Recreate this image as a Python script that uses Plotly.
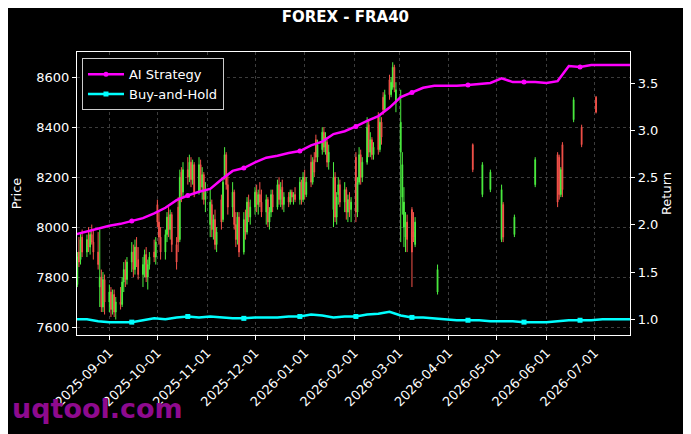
import pandas as pd
import plotly.graph_objects as go

# ---- price candles (FRA40), daily, dense part Aug 2025 -> Mar 2026 ----
dense_start = "2025-08-11"
dense_opens = [
    7830, 7770, 7900, 7870, 7960,  7900, 7950, 7920, 7970, 7940,
    7900, 7760, 7800, 7680, 7790,  7700, 7740, 7670, 7730, 7660,
    7700, 7690, 7780, 7830, 7790,  7860, 7900, 7830, 7920, 7870,
    7810, 7850, 7890, 7800, 7850,  7900, 7880, 8090, 8020, 7960,
    7900, 7970, 8040, 7990, 8050,  7930, 8080, 7950, 8220, 8140,
    8230, 8200, 8260, 8190, 8250,  8140, 8250, 8160, 8210, 8110,
    8010, 8090, 7990, 8030, 7930,  8110, 8030, 8200, 8290, 8170,
    8080, 8140, 8010, 7950, 8040,  7900, 8030, 7980, 8100, 8040,
    8080, 8140, 8090, 8130, 8100,  8060, 8110, 8020, 8060, 8130,
    8080, 8170, 8110, 8160, 8090,  8120, 8100, 8140, 8120, 8130,
    8110, 8180, 8110, 8200, 8130,  8260, 8180, 8270, 8350, 8280,
    8310, 8380, 8300, 8340, 8260,  8070, 8200, 8040, 8130, 8170,
    8100, 8150, 8060, 8110, 8070,  8280, 8060, 8180, 8290, 8200,
    8260, 8410, 8300, 8350, 8290,  8440, 8310, 8420, 8520, 8470,
    8590, 8530, 8560, 8640, 8500,  8300, 8120, 8000, 7960, 8020,
    8070, 7980, 7930,
]
dense_highs = [
    7850, 7900, 7960, 7980, 7990,  7970, 8000, 7990, 8010, 7990,
    7980, 7990, 7830, 7820, 7810,  7770, 7760, 7750, 7750, 7720,
    7760, 7800, 7860, 7870, 7880,  7940, 7930, 7950, 7960, 7920,
    7880, 7910, 7920, 7870, 7900,  7950, 7960, 8110, 8060, 8000,
    7990, 8060, 8080, 8070, 8060,  7960, 8120, 8230, 8240, 8260,
    8280, 8290, 8280, 8270, 8260,  8280, 8270, 8240, 8220, 8180,
    8150, 8110, 8050, 8070, 8000,  8130, 8200, 8320, 8300, 8210,
    8180, 8150, 8060, 8060, 8060,  8060, 8070, 8120, 8130, 8110,
    8160, 8170, 8150, 8180, 8150,  8130, 8120, 8080, 8150, 8150,
    8190, 8200, 8180, 8190, 8140,  8140, 8150, 8150, 8140, 8160,
    8200, 8190, 8220, 8230, 8200,  8290, 8280, 8300, 8370, 8350,
    8400, 8400, 8380, 8350, 8330,  8260, 8220, 8140, 8200, 8190,
    8180, 8160, 8130, 8140, 8120,  8300, 8200, 8320, 8310, 8280,
    8440, 8430, 8380, 8360, 8340,  8460, 8450, 8440, 8540, 8550,
    8610, 8600, 8660, 8650, 8580,  8550, 8300, 8160, 8060, 8050,
    8080, 8060, 8040,
]
dense_lows = [
    7750, 7760, 7840, 7850, 7880,  7880, 7900, 7890, 7930, 7870,
    7830, 7680, 7660, 7660, 7650,  7660, 7640, 7650, 7640, 7630,
    7670, 7680, 7740, 7760, 7770,  7820, 7800, 7810, 7840, 7790,
    7760, 7800, 7780, 7750, 7830,  7860, 7850, 8000, 7930, 7870,
    7870, 7940, 7960, 7950, 7900,  7830, 7900, 7940, 8100, 8120,
    8170, 8180, 8160, 8170, 8120,  8130, 8140, 8110, 8090, 8060,
    7960, 7960, 7950, 7910, 7900,  7990, 8020, 8190, 8150, 8050,
    8040, 7990, 7920, 7930, 7880,  7890, 7950, 7970, 8020, 8010,
    8050, 8060, 8050, 8080, 8040,  8010, 8000, 7990, 8040, 8060,
    8070, 8090, 8080, 8070, 8060,  8080, 8090, 8100, 8090, 8100,
    8090, 8090, 8100, 8110, 8120,  8160, 8170, 8200, 8260, 8260,
    8290, 8300, 8290, 8240, 8230,  8000, 8020, 8010, 8090, 8080,
    8060, 8030, 8020, 8040, 8020,  8020, 8040, 8170, 8170, 8180,
    8250, 8280, 8280, 8270, 8270,  8290, 8300, 8330, 8450, 8460,
    8510, 8520, 8550, 8540, 8460,  7940, 8050, 7920, 7900, 7900,
    7760, 7940, 7920,
]
dense_closes = [
    7770, 7880, 7860, 7950, 7900,  7950, 7920, 7970, 7940, 7900,
    7850, 7800, 7680, 7790, 7700,  7740, 7670, 7730, 7660, 7700,
    7690, 7780, 7830, 7790, 7860,  7900, 7830, 7920, 7870, 7810,
    7850, 7890, 7800, 7850, 7880,  7880, 7940, 8020, 7960, 7900,
    7970, 8040, 7990, 8050, 7930,  7860, 7940, 8200, 8130, 8230,
    8200, 8260, 8190, 8250, 8140,  8250, 8160, 8210, 8110, 8150,
    8100, 7990, 8030, 7930, 7980,  8020, 8180, 8290, 8170, 8080,
    8140, 8010, 7950, 8040, 7900,  8030, 7980, 8100, 8040, 8080,
    8140, 8090, 8130, 8100, 8060,  8110, 8020, 8060, 8130, 8080,
    8170, 8110, 8150, 8090, 8120,  8100, 8140, 8120, 8130, 8110,
    8180, 8110, 8200, 8130, 8180,  8180, 8260, 8220, 8280, 8330,
    8380, 8320, 8360, 8260, 8300,  8200, 8040, 8120, 8170, 8100,
    8150, 8060, 8110, 8070, 8100,  8060, 8180, 8290, 8200, 8260,
    8400, 8300, 8350, 8290, 8320,  8310, 8420, 8360, 8470, 8530,
    8530, 8580, 8640, 8560, 8550,  8420, 8250, 8100, 8020, 7950,
    7900, 7960, 8020,
]

# ---- sparse candles after mid-March 2026 ----
sparse_dates = ["2026-03-25", "2026-04-16", "2026-04-22", "2026-04-27", "2026-05-04",
                "2026-05-05", "2026-05-12", "2026-05-25", "2026-06-08", "2026-06-09",
                "2026-06-10", "2026-06-11", "2026-06-18", "2026-06-23", "2026-07-02"]
sparse_opens = [7740, 8330, 8130, 8150, 7950, 8090, 7970, 8170, 8290, 8280, 8130, 8330, 8430, 8400, 8520]
sparse_highs = [7850, 8335, 8260, 8230, 8170, 8100, 8050, 8280, 8300, 8290, 8240, 8340, 8520, 8410, 8525]
sparse_lows = [7730, 8220, 8120, 8140, 7940, 7940, 7960, 8160, 8080, 8110, 8120, 8120, 8420, 8320, 8455]
sparse_closes = [7830, 8230, 8250, 8220, 8150, 7960, 8040, 8270, 8100, 8130, 8230, 8150, 8510, 8330, 8460]

# ---- cumulative return curves, weekly ----
curve_start = "2025-08-11"
ai_strategy = [
    1.90, 1.93, 1.96, 1.99, 2.01, 2.04, 2.07, 2.12, 2.18, 2.26,
    2.31, 2.35, 2.38, 2.48, 2.57, 2.60, 2.66, 2.71, 2.73, 2.76,
    2.78, 2.84, 2.88, 2.96, 2.99, 3.04, 3.10, 3.15, 3.24, 3.35,
    3.40, 3.45, 3.47, 3.47, 3.47, 3.48, 3.49, 3.50, 3.55, 3.51,
    3.51, 3.51, 3.50, 3.52, 3.68, 3.67, 3.69, 3.69, 3.69, 3.69,
    3.69,
]
buy_and_hold = [
    1.00, 1.00, 0.98, 0.97, 0.97, 0.97, 0.99, 1.01, 1.00, 1.02,
    1.03, 1.02, 1.03, 1.02, 1.01, 1.01, 1.02, 1.02, 1.02, 1.03,
    1.03, 1.05, 1.04, 1.02, 1.03, 1.03, 1.05, 1.06, 1.08, 1.04,
    1.02, 1.02, 1.01, 1.00, 0.99, 0.99, 0.99, 0.98, 0.98, 0.98,
    0.97, 0.97, 0.97, 0.98, 0.99, 0.99, 0.99, 1.00, 1.00, 1.00,
    1.00,
]

month_ticks = ["2025-09-01", "2025-10-01", "2025-11-01", "2025-12-01", "2026-01-01",
               "2026-02-01", "2026-03-01", "2026-04-01", "2026-05-01", "2026-06-01",
               "2026-07-01"]

dense_dates = pd.bdate_range(dense_start, periods=len(dense_closes))
candle_dates = list(dense_dates) + list(pd.to_datetime(sparse_dates))
curve_dates = pd.date_range(curve_start, periods=len(ai_strategy), freq="7D")

GREEN = "#4cf040"
RED = "#f5524a"
GRID = "#3c3c3c"

fig = go.Figure()

fig.add_trace(go.Candlestick(
    x=candle_dates,
    open=dense_opens + sparse_opens,
    high=dense_highs + sparse_highs,
    low=dense_lows + sparse_lows,
    close=dense_closes + sparse_closes,
    increasing=dict(line=dict(color=GREEN, width=1), fillcolor=GREEN),
    decreasing=dict(line=dict(color=RED, width=1), fillcolor=RED),
    whiskerwidth=0,
    showlegend=False,
    yaxis="y",
))

series = [("AI Strategy", ai_strategy, "#ff00ff", "circle"),
          ("Buy-and-Hold", buy_and_hold, "#00ffff", "square")]
for name, vals, col, sym in series:
    fig.add_trace(go.Scatter(x=curve_dates, y=vals, mode="lines", yaxis="y2",
                             line=dict(color=col, width=2.5), showlegend=False))
    # markers every 5th point (like matplotlib markevery)
    fig.add_trace(go.Scatter(x=curve_dates[5::5], y=vals[5::5], mode="markers", yaxis="y2",
                             marker=dict(color=col, size=5, symbol=sym), showlegend=False))
    # legend entry
    fig.add_trace(go.Scatter(x=[None], y=[None], mode="lines+markers", name=name, yaxis="y2",
                             line=dict(color=col, width=2.5),
                             marker=dict(color=col, size=5, symbol=sym)))

axis_common = dict(showline=True, linecolor="white", linewidth=1.2, ticks="outside",
                   tickcolor="white", ticklen=4, tickfont=dict(size=13, color="white"),
                   zeroline=False, automargin=False)

# page body adds an 8px offset, so the figure is 8px smaller than the window
fig.update_layout(
    template="none",
    width=683, height=426,
    paper_bgcolor="black", plot_bgcolor="black",
    margin=dict(l=69, r=61, t=44, b=99, autoexpand=False),
    font=dict(family="DejaVu Sans", color="white", size=13),
    title=dict(text="FOREX - FRA40", x=0.494, xref="container", xanchor="center",
               y=0.979, yref="container", yanchor="middle",
               font=dict(size=15, color="white", weight="bold")),
    xaxis=dict(type="date", range=["2025-08-11 19:00", "2026-07-23 05:00"],
               rangeslider=dict(visible=False), mirror=True,
               tickvals=month_ticks, tickformat="%Y-%m-%d", tickangle=-45,
               showgrid=True, gridcolor=GRID, griddash="3px,3px", gridwidth=0.7,
               **axis_common),
    yaxis=dict(range=[7568, 8701], tick0=7600, dtick=200, mirror=True,
               title=dict(text="Price", font=dict(size=13), standoff=11),
               showgrid=True, gridcolor=GRID, griddash="3px,3px", gridwidth=0.7,
               **axis_common),
    yaxis2=dict(overlaying="y", side="right", range=[0.834, 3.828], tick0=1.0, dtick=0.5,
                tickformat=".1f", showgrid=False,
                title=dict(text="Return", font=dict(size=13), standoff=4),
                **axis_common),
    legend=dict(x=0.009, y=0.978, xanchor="left", yanchor="top", bgcolor="black",
                bordercolor="#cccccc", borderwidth=1, itemwidth=36,
                font=dict(size=13, color="white")),
    hovermode=False,
)

fig.add_annotation(text="uqtool.com", xref="paper", yref="paper", x=-0.121, y=-0.258,
                   xanchor="left", yanchor="middle", showarrow=False,
                   font=dict(size=27, color="#8e0a8e", family="DejaVu Sans", weight="bold"))

fig.write_html("out.html")
